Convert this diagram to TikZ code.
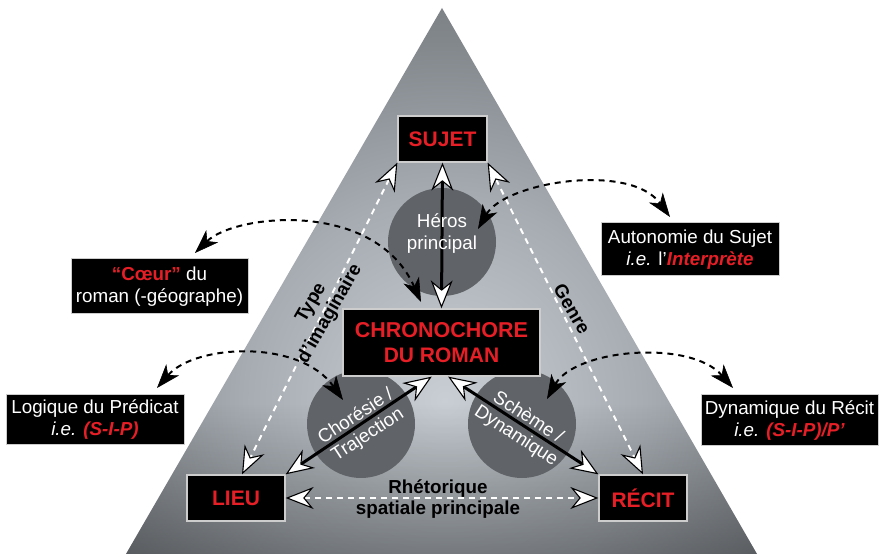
\documentclass[tikz,border=0pt]{standalone}
\usepackage{fontspec}
\setmainfont{Liberation Sans}
\usetikzlibrary{arrows.meta,fadings,calc}

\definecolor{hired}{RGB}{230,30,38}
\definecolor{boxedge}{RGB}{205,205,205}
\definecolor{hubgrey}{RGB}{96,99,103}
\definecolor{gA}{RGB}{200,206,212}
\definecolor{gB}{RGB}{166,172,178}
\definecolor{gC}{RGB}{130,135,140}
\definecolor{gD}{RGB}{106,110,115}
\definecolor{gE}{RGB}{84,87,91}
\definecolor{gF}{RGB}{72,74,77}
\definecolor{gG}{RGB}{46,47,49}

% glow of the pyramid, brightest around the three hubs
\pgfdeclareradialshading{pyramidglow}{\pgfpoint{0bp}{0bp}}{%
  color(0bp)=(gA); color(12.5bp)=(gB); color(22.5bp)=(gC);
  color(32.5bp)=(gD); color(41.25bp)=(gE); color(48.75bp)=(gF);
  color(50bp)=(gG)}

\tikzset{
  keybox/.style={draw=boxedge, line width=1.3pt, fill=black, text=hired,
    inner sep=0pt, align=center, font=\bfseries\fontsize{21}{25}\selectfont},
  notebox/.style={draw=boxedge, line width=1pt, fill=black, text=white,
    inner sep=0pt, align=center, font=\fontsize{18.8}{21.5}\selectfont},
  hub/.style={circle, fill=hubgrey, minimum size=108pt, inner sep=0pt},
  hubtext/.style={text=white, align=center, inner sep=0pt,
    font=\fontsize{18.8}{22}\selectfont},
  axistext/.style={text=black, align=center, inner sep=0pt,
    font=\bfseries\fontsize{18.8}{21.5}\selectfont},
  openhead/.tip={Stealth[length=28pt, width=22pt, inset=9pt, fill=white,
    color=black, line width=1.1pt]},
  darkhead/.tip={Stealth[length=24pt, width=17pt, inset=7pt, fill=black,
    color=black, line width=0.6pt]},
  corelink/.style={line width=3pt, draw=black, {openhead}-{openhead}},
  roleline/.style={line width=2pt, draw=white, dash pattern=on 6pt off 5pt,
    {openhead}-{openhead}},
  gloss/.style={line width=2pt, draw=black, dash pattern=on 6pt off 5pt,
    {darkhead}-{darkhead}},
}

\begin{document}
\begin{tikzpicture}[x=1pt,y=1pt]
\useasboundingbox (0,0) rectangle (879,554);
\fill[white] (0,0) rectangle (879,554);

% the pyramid
\begin{scope}
  \clip (442,546) -- (126,0) -- (757,0) -- cycle;
  \shade[shading=pyramidglow] (445,154) circle (400);
  \fill[black, fill opacity=0.45, path fading=north] (100,-60) rectangle (800,150);
\end{scope}

% hubs
\node[hub] (heros) at (442,312) {};
\node[hub] (choresie) at (361,130) {};
\node[hub] (scheme) at (522,130) {};

% key boxes
\node[keybox, minimum width=89pt, minimum height=46pt] (sujet) at (442.5,415) {SUJET};
\node[keybox, minimum width=197pt, minimum height=67pt] (chrono) at (441.5,211.5)
  {\fontsize{21.5}{25}\selectfont CHRONOCHORE\\DU ROMAN};
\node[keybox, minimum width=98pt, minimum height=46pt] (lieu) at (236,56) {LIEU};
\node[keybox, minimum width=88pt, minimum height=46pt] (recit) at (643,56) {RÉCIT};

% gloss boxes
\node[notebox, minimum width=177pt, minimum height=55pt] (coeur) at (159.5,267.5)
  {\textcolor{hired}{\bfseries “Cœur”} du\\roman (-géographe)};
\node[notebox, minimum width=178pt, minimum height=50pt] (logique) at (95,134.5)
  {Logique du Prédicat\\\textit{i.e.} \textcolor{hired}{\bfseries\itshape (S-I-P)}};
\node[notebox, minimum width=178pt, minimum height=53pt] (autonomie) at (690,304.5)
  {Autonomie du Sujet\\\textit{i.e.} l’\textcolor{hired}{\bfseries\itshape Interprète}};
\node[notebox, minimum width=177pt, minimum height=51pt] (dynamique) at (789.5,133.5)
  {Dynamique du Récit\\\textit{i.e.} \textcolor{hired}{\bfseries\itshape (S-I-P)/P’}};

% free ends of the gloss curves
\coordinate (herosIn) at (478,325);
\coordinate (autoTop) at (670,337);
\coordinate (coeurTop) at (195,301);
\coordinate (chronoCorner) at (421,252);
\coordinate (logiqueTop) at (157,166);
\coordinate (choresieIn) at (343,154);
\coordinate (schemeIn) at (547,155);
\coordinate (dynTop) at (733,166);

% dashed white roles
\draw[roleline] (sujet.south west) -- ([xshift=6pt]lieu.north);
\draw[roleline] (sujet.south east) -- (recit.north);
\draw[roleline] (lieu.east) -- (recit.west);

% dashed gloss curves
\draw[gloss] (herosIn) .. controls (505,372) and (630,392) .. (autoTop);
\draw[gloss] (coeurTop) .. controls (235,340) and (375,355) .. (chronoCorner);
\draw[gloss] (logiqueTop) .. controls (195,210) and (300,215) .. (choresieIn);
\draw[gloss] (schemeIn) .. controls (575,205) and (690,215) .. (dynTop);

% solid links to the chronochore
\draw[corelink] (sujet.south) -- (chrono.north);
\draw[corelink] (chrono.-106) -- (lieu.north east);
\draw[corelink] (chrono.-79) -- (recit.north west);

% hub texts
\node[hubtext] (herostext) at (442,320) {Héros\\principal};
\node[hubtext, rotate=33] (choresietext) at (362,128) {Chorésie /\\Trajection};
\node[hubtext, rotate=-33] (schemetext) at (522,127) {Schème /\\Dynamique};

% axis labels
\node[axistext, rotate=60] (typelab) at (321,245.5) {Type\\d’imaginaire};
\node[axistext, rotate=-60] (genrelab) at (572,245) {Genre};
\node[axistext] (rhetlab) at (438,55) {Rhétorique\\spatiale principale};
\end{tikzpicture}
\end{document}
